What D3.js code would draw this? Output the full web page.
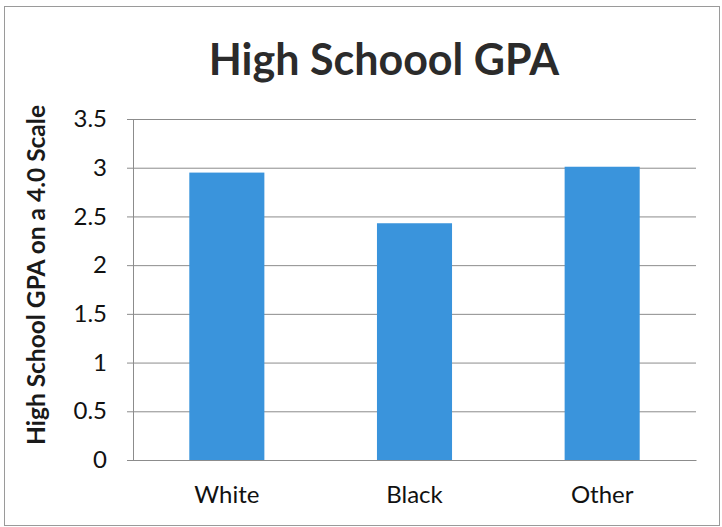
<!DOCTYPE html>
<html>
<head>
<meta charset="utf-8">
<script src="https://cdn.jsdelivr.net/npm/d3@7"></script>
<style>
  html, body { margin: 0; padding: 0; background: #fff; }
  svg { display: block; }
</style>
</head>
<body>
<svg id="chart" width="722" height="527"></svg>
<script>
// Average high school GPA by group
const categories = ["White", "Black", "Other"];
const gpaValues = [2.95, 2.43, 3.01];
const yTicks = [0, 0.5, 1, 1.5, 2, 2.5, 3, 3.5];

const W = 722, H = 527;
const margin = { left: 133, right: 26, top: 119, bottom: 67 };
const fontFamily = "Lato, 'Open Sans', 'Liberation Sans', sans-serif";

const svg = d3.select("#chart");

// outer frame
svg.append("rect")
  .attr("x", 4.5).attr("y", 6.5)
  .attr("width", W - 7).attr("height", H - 8)
  .attr("fill", "#fff")
  .attr("stroke", "#9a9a9a").attr("stroke-width", 1);

const x = d3.scaleBand()
  .domain(categories)
  .range([margin.left, W - margin.right])
  .paddingInner(0.6)
  .paddingOuter(0.3);

const y = d3.scaleLinear()
  .domain([0, 3.5])
  .range([H - margin.bottom, margin.top]);

// horizontal gridlines + tick marks
const yAxis = d3.axisLeft(y)
  .tickValues(yTicks)
  .tickFormat(d3.format("~g"))
  .tickSize(-(W - margin.right - margin.left))
  .tickPadding(26);

const gy = svg.append("g")
  .attr("transform", `translate(${margin.left},0)`)
  .call(yAxis);
gy.select(".domain").remove();
gy.selectAll(".tick line")
  .attr("stroke", "#8c8c8c").attr("stroke-width", 1)
  .attr("x1", -6);
gy.selectAll(".tick text")
  .attr("font-family", fontFamily)
  .attr("font-size", 24)
  .attr("fill", "#111");

// vertical axis line
svg.append("line")
  .attr("x1", margin.left + 0.5).attr("x2", margin.left + 0.5)
  .attr("y1", y(3.5)).attr("y2", y(0))
  .attr("stroke", "#8c8c8c").attr("stroke-width", 1);

// bars
svg.append("g")
  .selectAll("rect")
  .data(categories.map((c, i) => ({ c, v: gpaValues[i] })))
  .join("rect")
  .attr("x", d => x(d.c))
  .attr("width", x.bandwidth())
  .attr("y", d => y(d.v))
  .attr("height", d => y(0) - y(d.v))
  .attr("fill", "#3a94dc");

// category axis
const xAxis = d3.axisBottom(x).tickSize(0).tickPadding(26);
const gx = svg.append("g")
  .attr("transform", `translate(0,${y(0)})`)
  .call(xAxis);
gx.select(".domain").attr("stroke", "#8c8c8c");
gx.selectAll(".tick text")
  .attr("font-family", fontFamily)
  .attr("font-size", 24)
  .attr("fill", "#111");

// title
svg.append("text")
  .attr("x", 384).attr("y", 75)
  .attr("text-anchor", "middle")
  .attr("font-family", fontFamily)
  .attr("font-weight", "bold")
  .attr("font-size", 43)
  .attr("fill", "#2b2b2b")
  .text("High Schoool GPA");

// y-axis title
svg.append("text")
  .attr("transform", `translate(45,275) rotate(-90)`)
  .attr("text-anchor", "middle")
  .attr("font-family", fontFamily)
  .attr("font-weight", "bold")
  .attr("font-size", 24.5)
  .attr("fill", "#1a1a1a")
  .text("High School GPA on a 4.0 Scale");
</script>
</body>
</html>
